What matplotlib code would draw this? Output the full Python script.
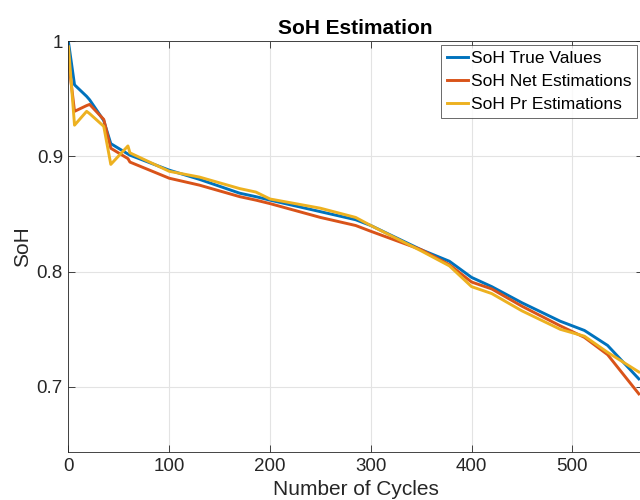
import matplotlib
matplotlib.use("Agg")
import matplotlib.pyplot as plt

# cycle numbers and SoH values
cycles = [0, 6, 18, 21, 35, 42, 59, 61, 100, 130, 170, 186, 200, 250, 285, 300,
          350, 378, 400, 420, 450, 488, 512, 535, 566]
soh_true = [0.999, 0.962, 0.952, 0.949, 0.931, 0.911, 0.902, 0.901, 0.888, 0.880,
            0.868, 0.865, 0.862, 0.852, 0.845, 0.840, 0.819, 0.809, 0.795, 0.787,
            0.773, 0.757, 0.749, 0.736, 0.707]
soh_net = [0.983, 0.939, 0.944, 0.945, 0.932, 0.907, 0.898, 0.895, 0.881, 0.875,
           0.865, 0.862, 0.859, 0.847, 0.840, 0.835, 0.819, 0.806, 0.791, 0.785,
           0.770, 0.753, 0.743, 0.728, 0.694]
soh_pr = [0.995, 0.927, 0.939, 0.937, 0.926, 0.893, 0.909, 0.903, 0.887, 0.882,
          0.872, 0.869, 0.863, 0.855, 0.847, 0.840, 0.818, 0.805, 0.787, 0.781,
          0.766, 0.750, 0.744, 0.730, 0.713]

plt.rcParams['font.family'] = ['Liberation Sans', 'DejaVu Sans']

fig = plt.figure(figsize=(6.4, 5.0), dpi=100)
# axes run slightly past the right edge, as in the cropped original
ax = fig.add_axes([0.107, 0.096, 0.8975, 0.822])

ax.plot(cycles, soh_true, color='#0072BD', lw=2.1, label='SoH True Values')
ax.plot(cycles, soh_net, color='#D95319', lw=2.1, label='SoH Net Estimations')
ax.plot(cycles, soh_pr, color='#EDB120', lw=2.1, label='SoH Pr Estimations')

ax.set_xlim(0, 570)
ax.set_ylim(0.6436, 1.0)
ax.set_xticks([0, 100, 200, 300, 400, 500])
ax.set_yticks([0.7, 0.8, 0.9, 1.0])
ax.set_yticklabels(['0.7', '0.8', '0.9', '1'])
ax.grid(True, color='#e3e3e3', lw=0.8)
ax.set_axisbelow(True)
ax.tick_params(direction='in', top=True, right=True, labelsize=13.5,
               colors='#262626', length=5, width=0.6, pad=4)
for s in ax.spines.values():
    s.set_color('#262626')
    s.set_linewidth(0.6)

ax.set_title('SoH Estimation', fontsize=15, fontweight='bold', pad=5)
ax.set_xlabel('Number of Cycles', fontsize=15, color='#262626', labelpad=4)
ax.set_ylabel('SoH', fontsize=15, color='#262626', labelpad=3)

leg = ax.legend(loc='upper right', fontsize=12.5, frameon=True, fancybox=False,
                handlelength=1.2, handletextpad=0.15, borderpad=0.35,
                labelspacing=0.45, borderaxespad=0, bbox_to_anchor=(0.99, 0.99))
leg.get_frame().set_edgecolor('#262626')
leg.get_frame().set_linewidth(0.6)

fig.savefig('out.png', dpi=100, facecolor='white')
